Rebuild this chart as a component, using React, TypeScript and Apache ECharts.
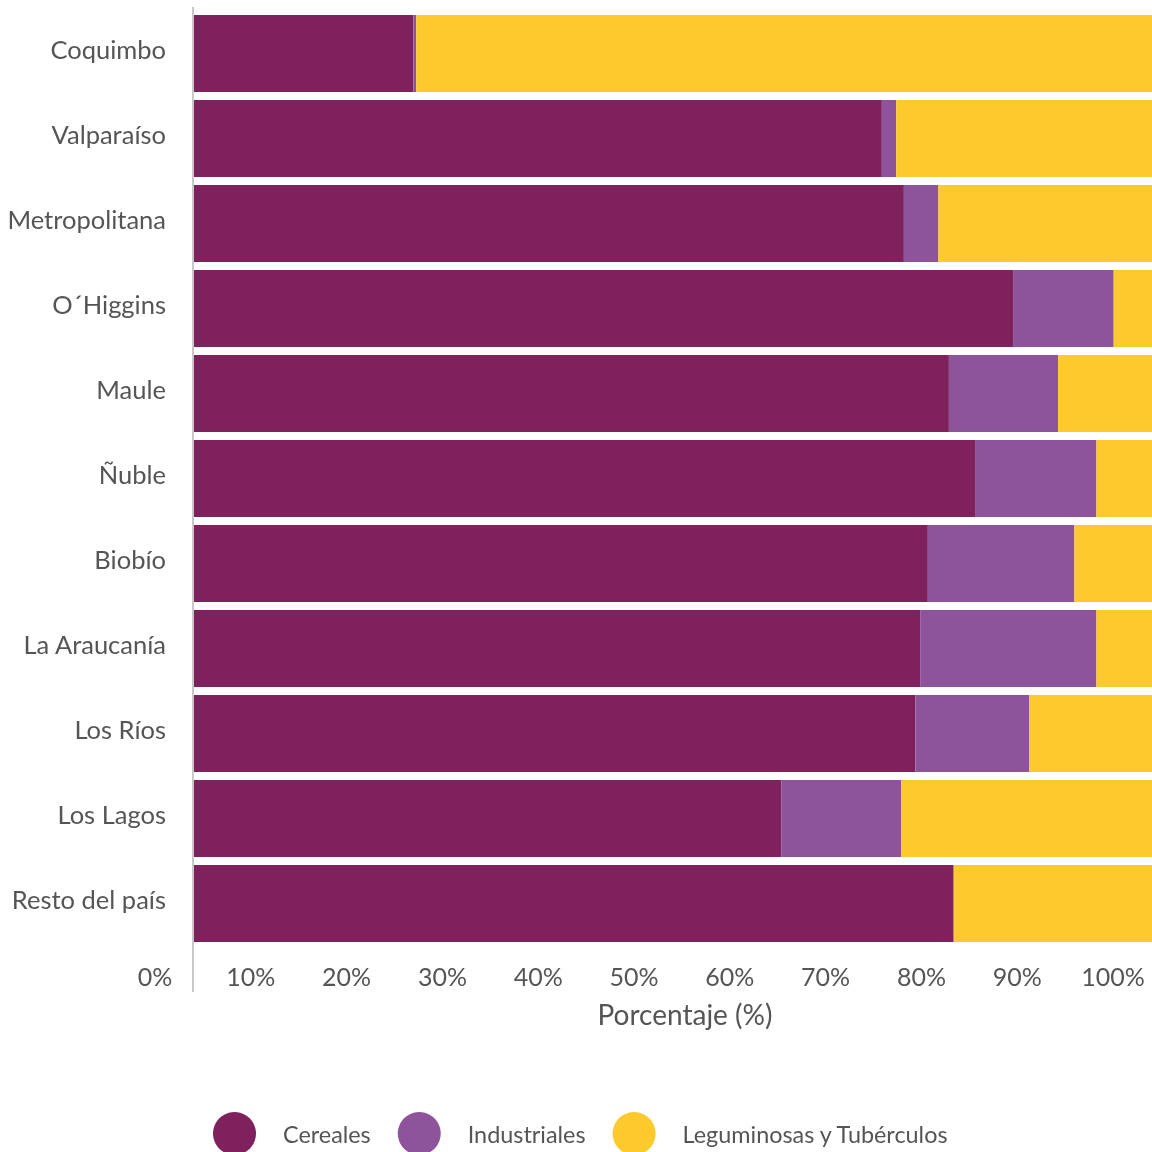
import React, { useEffect, useRef } from "react";
import * as echarts from "echarts";

const categories = [
  "Coquimbo",
  "Valparaíso",
  "Metropolitana",
  "O´Higgins",
  "Maule",
  "Ñuble",
  "Biobío",
  "La Araucanía",
  "Los Ríos",
  "Los Lagos",
  "Resto del país",
];
const cereales = [22.9, 71.8, 74.1, 85.5, 78.8, 81.6, 76.6, 75.8, 75.3, 61.3, 79.3];
const industriales = [0.3, 1.5, 3.6, 10.5, 11.4, 12.6, 15.3, 18.4, 11.9, 12.5, 0];
const leguminosas = [76.8, 26.7, 22.3, 4.0, 9.8, 5.8, 8.1, 5.8, 12.8, 26.2, 20.7];
const seriesNames = ["Cereales", "Industriales", "Leguminosas y Tubérculos"];
const colors = ["#7F215C", "#8E539B", "#FCCA2D"];

const FONT = "Lato, 'Open Sans', sans-serif";

export default function App() {
  const ref = useRef<HTMLDivElement>(null);
  useEffect(() => {
    if (!ref.current) return;
    const chart = echarts.init(ref.current, undefined, { renderer: "svg" });
    const values = [cereales, industriales, leguminosas];
    chart.setOption({
      animation: false,
      textStyle: { fontFamily: FONT },
      grid: { left: 194, right: 0, top: 11, height: 935 },
      legend: {
        left: 213,
        top: 1112,
        padding: 0,
        icon: "circle",
        itemWidth: 43,
        itemHeight: 43,
        itemGap: 27,
        selectedMode: false,
        textStyle: {
          fontSize: 23.4,
          color: "#555",
          fontFamily: FONT,
          padding: [0, 0, 0, 22],
        },
        data: seriesNames,
      },
      xAxis: {
        type: "value",
        min: 0,
        max: 100,
        interval: 10,
        splitLine: { show: false },
        axisLine: { show: false },
        axisTick: { show: false },
        axisLabel: {
          formatter: "{value}%",
          fontSize: 25,
          color: "#555",
          margin: 17,
          padding: [0, 78, 0, 0],
          fontFamily: FONT,
        },
        name: "Porcentaje (%)",
        nameLocation: "middle",
        nameGap: 54,
        nameTextStyle: { fontSize: 28, color: "#555", fontFamily: FONT, padding: [0, 0, 0, 24] },
      },
      yAxis: {
        type: "category",
        inverse: true,
        data: categories,
        axisLine: { show: false },
        axisTick: { show: false },
        axisLabel: {
          fontSize: 25.5,
          color: "#555",
          margin: 28,
          verticalAlign: "bottom",
          lineHeight: 10,
          fontFamily: FONT,
        },
      },
      graphic: [
        {
          type: "line",
          shape: { x1: 193, y1: 7, x2: 193, y2: 992 },
          style: { stroke: "#c8c8c8", lineWidth: 2 },
          z: 10,
        },
      ],
      series: seriesNames.map((name, i) => ({
        name,
        type: "bar",
        stack: "total",
        barWidth: 77,
        itemStyle: { color: colors[i] },
        data: values[i],
      })),
    });
    return () => chart.dispose();
  }, []);
  return (
    <div
      ref={ref}
      style={{ position: "fixed", left: 0, top: 0, width: 1152, height: 1152 }}
    />
  );
}
